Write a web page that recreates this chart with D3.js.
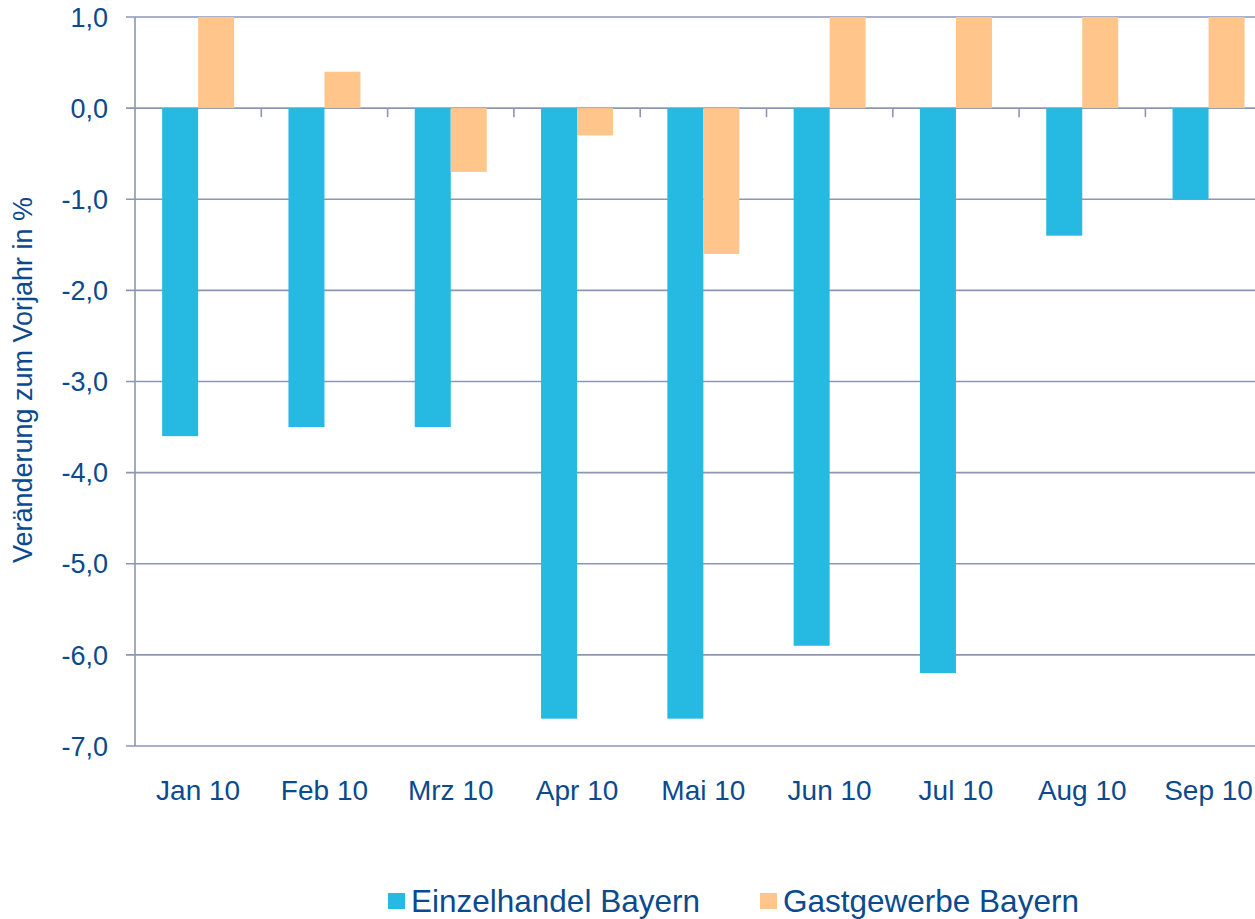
<!DOCTYPE html>
<html>
<head>
<meta charset="utf-8">
<script src="https://cdn.jsdelivr.net/npm/d3@7"></script>
<style>
  body { margin: 0; background: #fff; }
  svg text { font-family: "Liberation Sans", Arial, sans-serif; fill: #0b4a8e; }
</style>
</head>
<body>
<div id="chart"></div>
<script>
const months = ["Jan 10", "Feb 10", "Mrz 10", "Apr 10", "Mai 10", "Jun 10", "Jul 10", "Aug 10", "Sep 10"]
const seriesNames = ["Einzelhandel Bayern", "Gastgewerbe Bayern"]
const einzelhandel = [-3.6, -3.5, -3.5, -6.7, -6.7, -5.9, -6.2, -1.4, -1.0]
const gastgewerbe = [1.0, 0.4, -0.7, -0.3, -1.6, 1.0, 1.0, 1.0, 1.0]
const yTicks = [1, 0, -1, -2, -3, -4, -5, -6, -7]
const colors = ["#26b9e1", "#ffc58a"]

;(function () {
  const width = 1255
  const height = 919
  const plotLeft = 135
  const plotTop = 17
  const plotBottom = 746

  const svg = d3.select("#chart").append("svg").attr("width", width).attr("height", height)

  const x0 = d3.scaleBand().domain(months).range([plotLeft, plotLeft + 9 * 126.3]).padding(0)
  const groupW = 72
  const x1 = d3.scaleBand().domain([0, 1]).range([0, groupW]).padding(0)
  const y = d3.scaleLinear().domain([-7, 1]).range([plotBottom, plotTop]).clamp(true)

  const gridColor = "#8c96b4"

  // horizontal gridlines
  svg.append("g")
    .selectAll("line")
    .data(yTicks)
    .join("line")
    .attr("x1", plotLeft - 9)
    .attr("x2", width)
    .attr("y1", d => y(d))
    .attr("y2", d => y(d))
    .attr("stroke", gridColor)
    .attr("stroke-width", 1.6)

  // y axis line
  svg.append("line")
    .attr("x1", plotLeft).attr("x2", plotLeft)
    .attr("y1", y(1)).attr("y2", y(-7))
    .attr("stroke", gridColor).attr("stroke-width", 1.6)

  // tick labels
  svg.append("g")
    .selectAll("text")
    .data(yTicks)
    .join("text")
    .attr("x", 108)
    .attr("y", d => y(d))
    .attr("dy", "0.36em")
    .attr("text-anchor", "end")
    .style("font-size", "27px")
    .text(d => d3.format(".1f")(d).replace(".", ",").replace("−", "-"))

  // small ticks on zero line at category boundaries
  svg.append("g")
    .selectAll("line")
    .data(months.slice(1))
    .join("line")
    .attr("x1", d => x0(d))
    .attr("x2", d => x0(d))
    .attr("y1", y(0))
    .attr("y2", y(0) + 9)
    .attr("stroke", gridColor)
    .attr("stroke-width", 1.6)

  // bars
  const data = months.map((m, i) => ({ month: m, values: [einzelhandel[i], gastgewerbe[i]] }))

  const groups = svg.append("g")
    .selectAll("g")
    .data(data)
    .join("g")
    .attr("transform", d => `translate(${x0(d.month) + (x0.bandwidth() - groupW) / 2},0)`)

  groups.selectAll("rect")
    .data(d => d.values)
    .join("rect")
    .attr("x", (d, i) => x1(i))
    .attr("width", x1.bandwidth())
    .attr("y", d => Math.min(y(d), y(0)))
    .attr("height", d => Math.abs(y(d) - y(0)))
    .attr("fill", (d, i) => colors[i])

  // x labels
  svg.append("g")
    .selectAll("text")
    .data(months)
    .join("text")
    .attr("x", d => x0(d) + x0.bandwidth() / 2)
    .attr("y", 800)
    .attr("text-anchor", "middle")
    .style("font-size", "28px")
    .text(d => d)

  // y title
  svg.append("text")
    .attr("transform", "translate(32,380) rotate(-90)")
    .attr("text-anchor", "middle")
    .style("font-size", "27px")
    .text("Veränderung zum Vorjahr in %")

  // legend
  const legendX = [388, 760]
  const legend = svg.append("g")
    .selectAll("g")
    .data(seriesNames)
    .join("g")
    .attr("transform", (d, i) => `translate(${legendX[i]},893)`)

  legend.append("rect")
    .attr("width", 17)
    .attr("height", 16)
    .attr("fill", (d, i) => colors[i])

  legend.append("text")
    .attr("x", 23)
    .attr("y", 19)
    .style("font-size", "31.5px")
    .text(d => d)
})()
</script>
</body>
</html>
